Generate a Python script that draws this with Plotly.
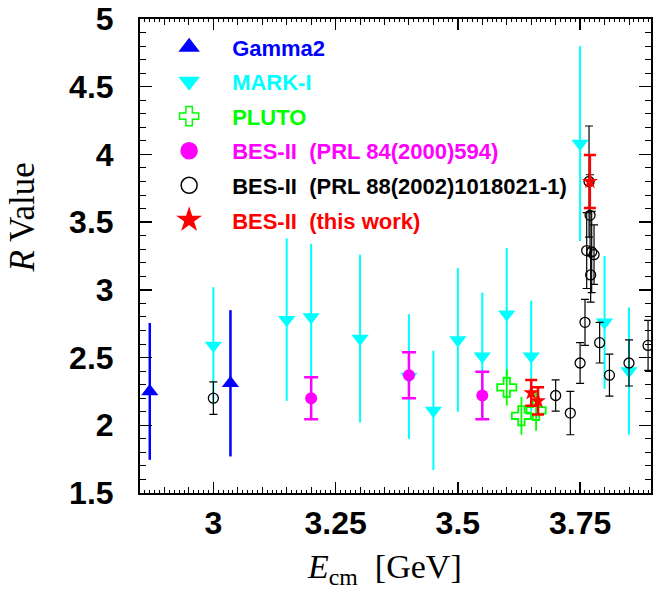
import plotly.graph_objects as go

# ---- data ----
gamma2_E = [2.870, 3.035]
gamma2_R = [2.25, 2.31]
gamma2_err = [0.505, 0.54]

markI_E = [3.00, 3.15, 3.20, 3.30, 3.40, 3.45, 3.50, 3.55, 3.60, 3.65, 3.75, 3.80, 3.85]
markI_R = [2.59, 2.78, 2.80, 2.64, 2.36, 2.11, 2.63, 2.51, 2.82, 2.51, 4.08, 2.76, 2.40]
markI_err = [0.43, 0.60, 0.54, 0.62, 0.46, 0.44, 0.53, 0.47, 0.49, 0.41, 0.72, 0.49, 0.47]

pluto_E = [3.600, 3.630, 3.660]
pluto_R = [2.28, 2.07, 2.11]
pluto_err = [0.135, 0.14, 0.15]

bes84_E = [3.20, 3.40, 3.55]
bes84_R = [2.20, 2.37, 2.22]
bes84_err = [0.155, 0.17, 0.175]

bes88_E = [3.000, 3.700, 3.730, 3.750, 3.760, 3.7635, 3.7683, 3.7704,
           3.7716, 3.7737, 3.7785, 3.790, 3.810, 3.850, 3.889]
bes88_R = [2.20, 2.22, 2.09, 2.46, 2.76, 3.29, 3.80, 3.55,
           3.11, 3.28, 3.26, 2.61, 2.37, 2.46, 2.59]
bes88_err = [0.12, 0.115, 0.16, 0.15, 0.17, 0.28, 0.41, 0.30,
             0.20, 0.30, 0.22, 0.15, 0.155, 0.17, 0.185]

besnew_E = [3.650, 3.664, 3.770]
besnew_R = [2.24, 2.18, 3.80]
besnew_err = [0.095, 0.10, 0.195]

x_ticks = [3.0, 3.25, 3.5, 3.75]
x_tick_labels = ["3", "3.25", "3.5", "3.75"]
y_ticks = [1.5, 2, 2.5, 3, 3.5, 4, 4.5, 5]
y_tick_labels = ["1.5", "2", "2.5", "3", "3.5", "4", "4.5", "5"]

NB = "\u00a0"

legend_names = ["Gamma2", "MARK-I", "PLUTO",
                f"BES-II{NB}{NB}(PRL 84(2000)594)",
                f"BES-II{NB}{NB}(PRL 88(2002)1018021-1)",
                f"BES-II{NB}{NB}(this work)"]
legend_colors = ["#0000FF", "#00FFFF", "#00FF00", "#FF00FF", "#000000", "#FF0000"]
legend_symbols = ["triangle-up", "triangle-down", "cross-open", "circle", "circle-open", "star"]
legend_sizes = [17, 17, 18, 18, 18, 18]

fig = go.Figure()

# data traces, back to front
fig.add_trace(go.Scatter(
    x=markI_E, y=markI_R, mode="markers", showlegend=False,
    marker=dict(symbol="triangle-down", size=15, color="#00FFFF"),
    error_y=dict(type="data", array=markI_err, color="#00FFFF", thickness=2, width=0)))
fig.add_trace(go.Scatter(
    x=gamma2_E, y=gamma2_R, mode="markers", showlegend=False,
    marker=dict(symbol="triangle-up", size=15, color="#0000FF"),
    error_y=dict(type="data", array=gamma2_err, color="#0000FF", thickness=2.5, width=0)))
fig.add_trace(go.Scatter(
    x=pluto_E, y=pluto_R, mode="markers", showlegend=False,
    marker=dict(symbol="cross-open", size=16, color="#00FF00", line=dict(width=1.8, color="#00FF00")),
    error_y=dict(type="data", array=pluto_err, color="#00FF00", thickness=1.8, width=0)))
fig.add_trace(go.Scatter(
    x=bes88_E, y=bes88_R, mode="markers", showlegend=False,
    marker=dict(symbol="circle-open", size=10, color="#000000", line=dict(width=1.3, color="#000000")),
    error_y=dict(type="data", array=bes88_err, color="#000000", thickness=1.2, width=4)))
fig.add_trace(go.Scatter(
    x=bes84_E, y=bes84_R, mode="markers", showlegend=False,
    marker=dict(symbol="circle", size=12, color="#FF00FF"),
    error_y=dict(type="data", array=bes84_err, color="#FF00FF", thickness=2.5, width=7)))
fig.add_trace(go.Scatter(
    x=besnew_E, y=besnew_R, mode="markers", showlegend=False,
    marker=dict(symbol="star", size=12, color="#FF0000"),
    error_y=dict(type="data", array=besnew_err, color="#FF0000", thickness=2.5, width=6)))

# legend entries (larger symbols, as in the reference legend)
for i, (nm, col, sym, sz) in enumerate(zip(legend_names, legend_colors, legend_symbols, legend_sizes)):
    fig.add_trace(go.Scatter(
        x=[None], y=[None], mode="markers", legendgroup=f"g{i}", legendrank=i + 1,
        name=f"<b><span style='color:{col}'>{nm}</span></b>",
        marker=dict(symbol=sym, size=sz, color=col, line=dict(width=1.5, color=col))))

# helper trace for the secondary (0.05) x tick level
fig.add_trace(go.Scatter(x=[None], y=[None], xaxis="x2", showlegend=False, hoverinfo="skip"))

xr = [2.85, 3.895]
fig.update_layout(
    width=653, height=590,
    margin=dict(l=140, r=0, t=19, b=97),
    paper_bgcolor="white", plot_bgcolor="white",
    font=dict(family="Liberation Sans, Arial, sans-serif", color="black"),
    showlegend=True,
    legend=dict(x=0.012, y=0.985, xanchor="left", yanchor="top",
                bgcolor="rgba(0,0,0,0)", font=dict(size=22, family="Liberation Sans, Arial"),
                tracegroupgap=3, itemwidth=76, traceorder="grouped", itemsizing="trace"),
    xaxis=dict(range=xr, showgrid=False, zeroline=False,
               tickmode="array", tickvals=x_ticks, ticktext=x_tick_labels,
               ticks="inside", ticklen=11, tickwidth=1.5, tickcolor="black",
               showline=True, linewidth=2, linecolor="black", mirror="ticks",
               tickfont=dict(size=32, family="Liberation Sans, Arial", weight="bold"),
               ticklabelstandoff=1,
               minor=dict(dtick=0.01, tick0=3.0, ticks="inside", ticklen=3, tickwidth=1, tickcolor="black")),
    xaxis2=dict(range=xr, overlaying="x", anchor="y", side="bottom", showgrid=False, zeroline=False,
                tickmode="linear", tick0=3.0, dtick=0.05, ticks="inside", ticklen=6, tickwidth=1,
                tickcolor="black", showticklabels=False, showline=False, mirror="ticks"),
    yaxis=dict(range=[1.5, 5.0], showgrid=False, zeroline=False,
               tickmode="array", tickvals=y_ticks, ticktext=y_tick_labels,
               ticks="inside", ticklen=12, tickwidth=1.5, tickcolor="black",
               showline=True, linewidth=2, linecolor="black", mirror="ticks",
               tickfont=dict(size=32, family="Liberation Sans, Arial", weight="bold"),
               ticklabelstandoff=18,
               minor=dict(dtick=0.1, tick0=1.5, ticks="inside", ticklen=6, tickwidth=1, tickcolor="black")),
    annotations=[
        dict(text=f"<i>E</i><sub>cm</sub>{NB}{NB}[GeV]", xref="paper", yref="paper",
             x=(385 - 140) / 513, y=-(569 - 493) / 474, xanchor="center", yanchor="middle",
             showarrow=False, font=dict(size=34, family="Liberation Serif, DejaVu Serif", color="black")),
        dict(text="<i>R</i> Value", xref="paper", yref="paper", textangle=-90,
             x=-(140 - 22) / 513, y=1 - (217 - 19) / 474, xanchor="center", yanchor="middle",
             showarrow=False, font=dict(size=35, family="Liberation Serif, DejaVu Serif", color="black")),
    ],
)

fig.update_traces(selector=dict(type="scatter"), cliponaxis=False)
fig.write_html("out.html", config={"displayModeBar": False, "staticPlot": True},
               post_script="document.body.style.margin='0px';")
